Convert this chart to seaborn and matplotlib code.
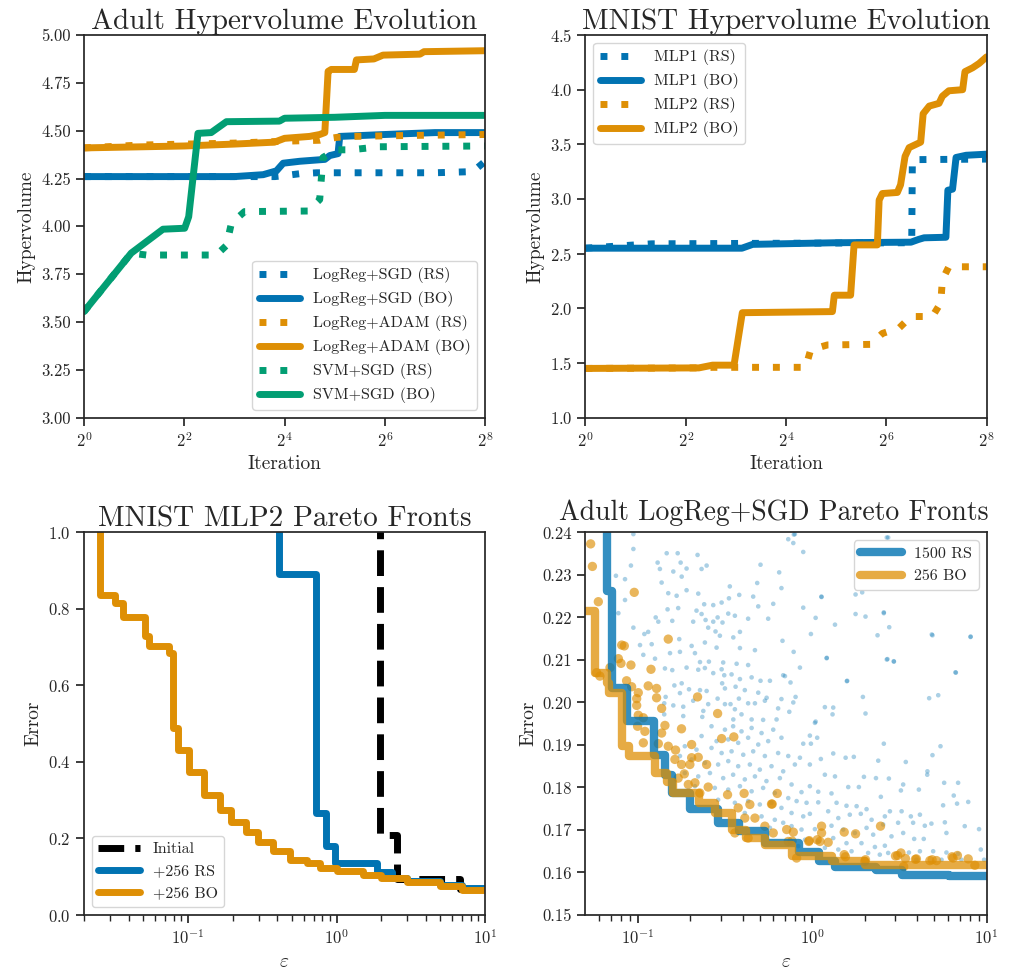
import numpy as np
import pandas as pd
import seaborn as sns
import matplotlib
matplotlib.use("Agg")
import matplotlib.pyplot as plt
from matplotlib.ticker import LogFormatterSciNotation, NullLocator, FixedLocator

# ---------------- Adult hypervolume evolution ----------------
adult_sgd_rs_x = [1, 14, 16, 19.7, 25, 128, 216, 256]
adult_sgd_rs_y = [4.26, 4.26, 4.265, 4.275, 4.28, 4.28, 4.286, 4.34]
adult_sgd_bo_x = [1, 8, 11.9, 14.3, 15.7, 19.7, 27.9, 29.9, 33.5, 34.3, 64, 128, 256]
adult_sgd_bo_y = [4.26, 4.26, 4.27, 4.29, 4.33, 4.34, 4.35, 4.37, 4.38, 4.47, 4.48, 4.49, 4.49]
adult_adam_rs_x = [1, 2.2, 8, 16, 26, 27.5, 33, 40, 90, 256]
adult_adam_rs_y = [4.41, 4.425, 4.435, 4.445, 4.45, 4.455, 4.465, 4.47, 4.475, 4.48]
adult_adam_bo_x = [1, 4, 8, 13.9, 16, 22.6, 26, 27.9, 29.2, 30.5, 42, 43.2, 55, 62.4, 104, 110, 256]
adult_adam_bo_y = [4.41, 4.42, 4.43, 4.44, 4.46, 4.47, 4.48, 4.49, 4.81, 4.82, 4.82, 4.87, 4.875,
                   4.895, 4.90, 4.913, 4.918]
adult_svm_rs_x = [1, 1.92, 2.37, 6.23, 7.16, 7.67, 9.2, 22.1, 26, 26.6, 27.2, 32.7, 40, 59.6, 256]
adult_svm_rs_y = [3.554, 3.86, 3.85, 3.85, 3.90, 4.016, 4.077, 4.08, 4.14, 4.25, 4.36, 4.40, 4.40,
                  4.416, 4.42]
adult_svm_bo_x = [1, 1.92, 2.98, 4.02, 4.25, 4.83, 5.8, 7.16, 14.9, 16, 32, 64, 256]
adult_svm_bo_y = [3.554, 3.86, 3.985, 3.99, 4.05, 4.486, 4.49, 4.547, 4.55, 4.565, 4.57, 4.58, 4.58]

# ---------------- MNIST hypervolume evolution ----------------
mnist_mlp1_rs_x = [1, 2.5, 91, 91.8, 256]
mnist_mlp1_rs_y = [2.55, 2.59, 2.60, 3.36, 3.365]
mnist_mlp1_bo_x = [1, 8.7, 10.1, 32, 90, 100, 108, 146, 150, 160, 168, 193, 256]
mnist_mlp1_bo_y = [2.55, 2.55, 2.585, 2.60, 2.605, 2.63, 2.645, 2.65, 3.08, 3.09, 3.38, 3.40, 3.41]
mnist_mlp2_rs_x = [1, 4.8, 5.8, 21, 22.5, 28.4, 51.6, 60.6, 76.5, 90, 121, 136, 139, 152, 256]
mnist_mlp2_rs_y = [1.45, 1.455, 1.46, 1.46, 1.62, 1.665, 1.67, 1.77, 1.82, 1.925, 1.925, 2.05, 2.26,
                   2.38, 2.38]
mnist_mlp2_bo_x = [1, 4.8, 5.8, 7.8, 8.75, 30.4, 31.2, 39.1, 41, 56.6, 58, 60.6, 74.6, 78, 83, 87.8,
                   103, 106.6, 116, 132.7, 139, 152, 184, 190, 211, 231, 256]
mnist_mlp2_bo_y = [1.45, 1.455, 1.48, 1.48, 1.96, 1.97, 2.12, 2.12, 2.58, 2.58, 2.99, 3.05, 3.06,
                   3.13, 3.39, 3.47, 3.52, 3.78, 3.85, 3.875, 3.94, 3.99, 4.0, 4.165, 4.2, 4.24, 4.30]

# ---------------- MNIST MLP2 Pareto fronts ----------------
mlp2_init_eps = [1.96, 1.96, 2.54, 6.8, 10.5]
mlp2_init_err = [1.05, 0.21, 0.095, 0.068, 0.068]
mlp2_rs_eps = [0.41, 0.41, 0.725, 0.85, 0.975, 1.86, 2.35, 3.0, 5.0, 7.0, 10.5]
mlp2_rs_err = [1.05, 0.89, 0.266, 0.18, 0.135, 0.113, 0.097, 0.09, 0.078, 0.07, 0.062]
mlp2_bo_eps = [0.0254, 0.0254, 0.032, 0.0365, 0.051, 0.055, 0.075, 0.079, 0.0857, 0.102, 0.129,
               0.163, 0.196, 0.247, 0.297, 0.374, 0.484, 0.628, 0.77, 1.0, 1.5, 2.0, 3.0, 5.0,
               7.0, 10.5]
mlp2_bo_err = [1.05, 0.837, 0.815, 0.78, 0.728, 0.704, 0.684, 0.488, 0.43, 0.375, 0.314, 0.275,
               0.244, 0.218, 0.192, 0.166, 0.144, 0.135, 0.122, 0.115, 0.105, 0.097, 0.087,
               0.075, 0.066, 0.058]

# ---------------- Adult LogReg+SGD Pareto fronts ----------------
lr_rs_front_eps = [0.0667, 0.0667, 0.0713, 0.0869, 0.1237, 0.144, 0.157, 0.2, 0.29, 0.38, 0.54,
                   0.84, 1.09, 1.36, 2.31, 3.28, 6.08, 10.5]
lr_rs_front_err = [0.25, 0.2263, 0.2035, 0.1956, 0.1877, 0.183, 0.1787, 0.175, 0.1716, 0.1697,
                   0.1669, 0.1649, 0.1626, 0.1614, 0.1605, 0.1594, 0.1592, 0.1592]
lr_bo_front_eps = [0.045, 0.0572, 0.0667, 0.068, 0.0813, 0.0888, 0.126, 0.147, 0.16, 0.224, 0.279,
                   0.348, 0.415, 0.54, 0.77, 1.30, 2.02, 10.5]
lr_bo_front_err = [0.2215, 0.207, 0.2046, 0.2023, 0.1897, 0.1875, 0.1834, 0.1814, 0.1787, 0.1763,
                   0.174, 0.170, 0.168, 0.1665, 0.1638, 0.1626, 0.1618, 0.1618]

# (log10 epsilon, error) of the individual evaluations
lr_rs_points = [
    (-1.025, 0.2396), (-1.025, 0.2361), (-0.834, 0.2351), (-0.771, 0.2351), (-0.886, 0.2329),
    (-0.754, 0.2329), (-0.657, 0.2347), (-0.634, 0.2314), (-0.605, 0.2322), (-0.720, 0.2315),
    (-0.796, 0.2308), (-0.873, 0.2314), (-1.125, 0.2298), (-1.073, 0.2290), (-1.039, 0.2322),
    (-0.863, 0.2282), (-0.748, 0.2296), (-0.472, 0.2273), (-0.315, 0.2281), (-0.296, 0.2324),
    (-0.189, 0.2306), (-0.176, 0.2269), (-0.825, 0.2257), (-0.720, 0.2264), (-0.653, 0.2256),
    (-0.777, 0.2251), (-0.477, 0.2245), (-0.418, 0.2253), (-0.338, 0.2249), (-0.309, 0.2226),
    (-0.223, 0.2232), (-1.073, 0.2241), (-0.829, 0.2219), (-0.768, 0.2222), (-0.619, 0.2231),
    (-0.567, 0.2229), (-0.519, 0.2235), (-0.663, 0.2216), (-0.634, 0.2208), (-0.481, 0.2209),
    (-0.443, 0.2204), (-0.542, 0.2200), (-0.514, 0.2188), (-0.611, 0.2194), (-0.567, 0.2190),
    (-0.682, 0.2190), (-0.802, 0.2192), (-0.882, 0.2190), (-0.897, 0.2200), (-1.111, 0.2210),
    (-1.025, 0.2176), (-0.962, 0.2161), (-0.940, 0.2166), (-0.596, 0.2176), (-0.554, 0.2167),
    (-0.414, 0.2166), (-0.252, 0.2197), (-0.367, 0.2197), (-0.529, 0.2157), (-0.452, 0.2153),
    (-0.762, 0.2149), (-0.920, 0.2137), (-0.987, 0.2135), (-0.691, 0.2133), (-0.615, 0.2141),
    (-0.548, 0.2129), (-0.414, 0.2128), (-0.328, 0.2123), (-0.170, 0.2145), (-0.815, 0.2116),
    (-0.758, 0.2119), (-0.901, 0.2103), (-0.968, 0.2112), (-0.672, 0.2116), (-0.643, 0.2095),
    (-0.592, 0.2096), (-0.510, 0.2094), (-0.433, 0.2091), (-0.367, 0.2088), (-0.844, 0.2080),
    (-0.802, 0.2076), (-0.720, 0.2082), (-0.653, 0.2077), (-0.615, 0.2081), (-0.567, 0.2069),
    (-0.519, 0.2078), (-0.504, 0.2064), (-0.462, 0.2066), (-0.414, 0.2055), (-0.347, 0.2059),
    (-0.296, 0.2051), (-0.242, 0.2051), (-0.166, 0.2064), (-0.790, 0.2040), (-0.748, 0.2045),
    (-0.706, 0.2031), (-0.643, 0.2029), (-0.605, 0.2027), (-0.516, 0.2045), (-0.500, 0.2033),
    (-0.439, 0.2037), (-0.386, 0.2029), (-0.309, 0.2023), (-0.261, 0.2011), (-0.176, 0.2008),
    (-0.840, 0.2013), (-0.758, 0.2022), (-0.848, 0.1998), (-0.796, 0.1993), (-0.739, 0.1990),
    (-0.682, 0.2004), (-0.596, 0.1996), (-0.542, 0.2009), (-0.500, 0.1996), (-0.468, 0.1996),
    (-0.420, 0.2009), (-0.367, 0.1998), (-0.328, 0.1998), (-0.271, 0.2004), (-0.195, 0.1986),
    (-0.405, 0.1972), (-0.443, 0.1984), (-0.624, 0.1980), (-0.630, 0.1966), (-0.848, 0.1972),
    (-0.739, 0.1968), (-0.452, 0.1960), (-0.347, 0.1960), (-0.281, 0.1959), (-0.204, 0.1960),
    (-0.137, 0.2384), (-0.099, 0.2396), (-0.108, 0.2375), (-0.051, 0.2354), (0.436, 0.2388),
    (0.264, 0.2347), (0.054, 0.2248), (0.249, 0.2254), (0.287, 0.2259), (-0.051, 0.2223),
    (0.020, 0.2199), (0.131, 0.2183), (0.249, 0.2208), (0.306, 0.2202), (0.411, 0.2210),
    (0.442, 0.2177), (0.375, 0.2158), (-0.007, 0.2161), (0.690, 0.2158), (0.908, 0.2154),
    (-0.106, 0.2119), (0.083, 0.2104), (-0.070, 0.2082), (0.432, 0.2102), (0.469, 0.2096),
    (0.201, 0.2051), (0.824, 0.2070), (-0.156, 0.2062), (-0.124, 0.2047), (-0.095, 0.2013),
    (0.291, 0.2013), (0.671, 0.2010), (0.723, 0.2017), (-0.108, 0.2000), (0.073, 0.1989),
    (0.121, 0.1988), (0.117, 0.1972), (0.306, 0.1974), (-0.131, 0.1978), (0.020, 0.1955),
    (0.909, 0.2155), (0.822, 0.2071), (0.686, 0.2160), (0.428, 0.2101), (0.468, 0.2097),
    (0.199, 0.2050), (0.084, 0.2105), (0.053, 0.2249), (0.411, 0.2212), (0.428, 0.2388),
    (-0.105, 0.2395),
    (-0.577, 0.1944), (-0.500, 0.1936), (-0.453, 0.1944), (-0.405, 0.1932), (-0.347, 0.1940),
    (-0.290, 0.1928), (-0.223, 0.1936), (-0.176, 0.1917), (-0.634, 0.1921), (-0.548, 0.1909),
    (-0.481, 0.1913), (-0.424, 0.1905), (-0.367, 0.1917), (-0.309, 0.1901), (-0.252, 0.1909),
    (-0.730, 0.1897), (-0.663, 0.1889), (-0.577, 0.1893), (-0.519, 0.1881), (-0.462, 0.1885),
    (-0.395, 0.1877), (-0.338, 0.1885), (-0.271, 0.1874), (-0.195, 0.1881), (-0.758, 0.1874),
    (-0.691, 0.1866), (-0.615, 0.1858), (-0.539, 0.1854), (-0.481, 0.1862), (-0.424, 0.1850),
    (-0.357, 0.1854), (-0.300, 0.1842), (-0.233, 0.1850), (-0.166, 0.1838), (-0.730, 0.1834),
    (-0.653, 0.1826), (-0.586, 0.1834), (-0.510, 0.1822), (-0.453, 0.1830), (-0.386, 0.1819),
    (-0.328, 0.1826), (-0.262, 0.1815), (-0.185, 0.1822), (-0.672, 0.1803), (-0.558, 0.1799),
    (-0.481, 0.1795), (-0.414, 0.1803), (-0.347, 0.1791), (-0.281, 0.1799), (-0.214, 0.1787),
    (-0.539, 0.1771), (-0.443, 0.1764), (-0.367, 0.1768), (-0.300, 0.1760), (-0.233, 0.1764),
    (-0.176, 0.1752), (-0.386, 0.1740), (-0.290, 0.1732), (-0.214, 0.1724), (-0.166, 0.1717),
    (-0.242, 0.1705),
    (0.016, 0.1952), (-0.013, 0.1922), (0.029, 0.1917), (-0.051, 0.1903), (-0.007, 0.1903),
    (-0.137, 0.1874), (-0.070, 0.1870), (0.050, 0.1867), (0.121, 0.1880), (0.192, 0.1870),
    (0.239, 0.1872), (0.411, 0.1903), (0.736, 0.1897), (0.690, 0.1876), (0.537, 0.1860),
    (0.379, 0.1863), (-0.099, 0.1854), (-0.013, 0.1854), (0.073, 0.1830), (0.131, 0.1826),
    (0.297, 0.1825), (0.366, 0.1822), (0.440, 0.1821), (0.661, 0.1838), (0.660, 0.1830),
    (0.757, 0.1811), (0.837, 0.1811), (0.522, 0.1807), (0.509, 0.1793), (0.612, 0.1795),
    (-0.118, 0.1807), (-0.013, 0.1803), (-0.061, 0.1789), (0.035, 0.1790), (0.111, 0.1786),
    (0.207, 0.1801), (0.268, 0.1801), (0.394, 0.1778), (-0.137, 0.1775), (-0.089, 0.1768),
    (-0.032, 0.1764), (0.035, 0.1765), (0.140, 0.1764), (0.197, 0.1757), (0.255, 0.1756),
    (0.312, 0.1749), (0.812, 0.1781), (0.831, 0.1762), (0.895, 0.1766), (0.751, 0.1758),
    (0.566, 0.1732), (0.618, 0.1736), (0.513, 0.1744), (0.417, 0.1732), (0.446, 0.1744),
    (-0.118, 0.1740), (-0.051, 0.1732), (-0.013, 0.1738), (0.092, 0.1744), (0.150, 0.1728),
    (0.216, 0.1736), (0.279, 0.1738), (0.341, 0.1724), (0.407, 0.1713), (0.493, 0.1717),
    (0.579, 0.1717), (0.646, 0.1710), (0.684, 0.1715), (0.761, 0.1718), (0.875, 0.1709),
    (0.957, 0.1702), (-0.118, 0.1709), (-0.061, 0.1701), (0.016, 0.1702), (0.111, 0.1710),
    (0.178, 0.1701), (0.245, 0.1693), (0.312, 0.1705), (0.350, 0.1689), (0.455, 0.1685),
    (0.522, 0.1693), (0.585, 0.1679), (0.640, 0.1679), (0.770, 0.1693), (-0.041, 0.1677),
    (0.035, 0.1673), (0.121, 0.1681), (0.197, 0.1669), (0.283, 0.1669), (0.360, 0.1660),
    (0.417, 0.1663), (-0.080, 0.1662), (0.073, 0.1658), (0.150, 0.1654), (0.226, 0.1650),
    (0.321, 0.1646), (0.436, 0.1646), (0.555, 0.1647), (0.618, 0.1650), (0.694, 0.1650),
    (0.770, 0.1647), (0.837, 0.1644), (0.967, 0.1654), (0.986, 0.1630), (0.856, 0.1630),
    (0.742, 0.1630), (0.598, 0.1630), (0.388, 0.1642),
]
lr_bo_points = [
    (-1.270, 0.2373), (-1.260, 0.2320), (-1.226, 0.2237), (-1.020, 0.2259), (-0.825, 0.2149),
    (-1.092, 0.2135), (-1.077, 0.2133), (-1.111, 0.2103), (-1.096, 0.2092), (-1.159, 0.2082),
    (-1.039, 0.2088), (-0.924, 0.2078), (-1.236, 0.2070), (-1.217, 0.2062), (-1.064, 0.2051),
    (-1.035, 0.2037), (-0.940, 0.2039), (-0.892, 0.2033), (-0.997, 0.2023), (-1.006, 0.2009),
    (-0.892, 0.2011), (-1.006, 0.1993), (-0.863, 0.1986), (-0.657, 0.2013), (-0.542, 0.1974),
    (-0.997, 0.1970), (-0.968, 0.1964),
    (-1.001, 0.1944), (-0.959, 0.1932), (-0.844, 0.1946), (-0.749, 0.1938), (-0.863, 0.1928),
    (-0.968, 0.1905), (-0.882, 0.1903), (-0.825, 0.1897), (-0.783, 0.1888), (-0.691, 0.1901),
    (-0.519, 0.1915), (-0.449, 0.1919), (-0.691, 0.1870), (-0.653, 0.1871), (-0.701, 0.1854),
    (-0.605, 0.1854), (-0.787, 0.1866), (-0.749, 0.1854), (-0.733, 0.1832), (-0.768, 0.1822),
    (-0.710, 0.1807), (-0.672, 0.1811), (-0.596, 0.1801), (-0.644, 0.1787), (-0.485, 0.1783),
    (-0.390, 0.1786), (-0.200, 0.1786), (-0.357, 0.1760), (-0.233, 0.1761), (-0.424, 0.1752),
    (-0.386, 0.1728), (-0.328, 0.1728), (-0.271, 0.1709), (-0.223, 0.1693), (-0.367, 0.1681),
    (-0.443, 0.1693), (-0.229, 0.1761),
    (-0.146, 0.1701), (-0.108, 0.1695), (0.054, 0.1709), (0.054, 0.1693), (0.184, 0.1695),
    (0.249, 0.1691), (0.392, 0.1709), (-0.017, 0.1675), (0.045, 0.1673), (0.092, 0.1671),
    (-0.137, 0.1673), (0.184, 0.1642), (0.490, 0.1640), (0.509, 0.1646), (0.535, 0.1633),
    (0.598, 0.1632), (0.675, 0.1628), (0.713, 0.1628), (0.808, 0.1634), (0.833, 0.1640),
    (0.895, 0.1632), (0.933, 0.1617), (-0.089, 0.1634), (0.302, 0.1626), (-0.115, 0.1674),
    (-0.019, 0.1673), (0.029, 0.1677), (0.592, 0.1631), (0.478, 0.1639), (0.688, 0.1630),
    (0.802, 0.1637), (0.306, 0.1630), (0.191, 0.1637), (0.525, 0.1614),
]

sns.set_theme(style="ticks", palette="colorblind")
plt.rcParams['font.family'] = ['cmr10', 'DejaVu Serif']
plt.rcParams['mathtext.fontset'] = 'cm'
plt.rcParams['axes.formatter.use_mathtext'] = True
plt.rcParams['axes.unicode_minus'] = False

pal = sns.color_palette("colorblind")
blue, orange, green = pal[0], pal[1], pal[2]
LW = 5
DOT = (0, (1, 2))

fig, axes = plt.subplots(2, 2, figsize=(10.16, 9.73), dpi=100)
fig.subplots_adjust(left=0.0827, right=0.971, bottom=0.0596, top=0.964, wspace=0.25, hspace=0.30)


def line(ax, x, y, color, label, ls='-', lw=LW, alpha=1.0, steps=False):
    kw = dict(drawstyle='steps-post') if steps else {}
    sns.lineplot(x=x, y=y, ax=ax, color=color, lw=lw, linestyle=ls, label=label,
                 sort=False, estimator=None, alpha=alpha, **kw)


def style_hv(ax, title):
    ax.set_xscale('log', base=2)
    ax.set_xlim(1, 256)
    ax.xaxis.set_major_locator(FixedLocator([1, 4, 16, 64, 256]))
    ax.xaxis.set_major_formatter(LogFormatterSciNotation(base=2))
    ax.xaxis.set_minor_locator(NullLocator())
    ax.set_title(title, fontsize=21, pad=4)
    ax.set_xlabel('Iteration', fontsize=14)
    ax.set_ylabel('Hypervolume', fontsize=14)


# top left
ax = axes[0, 0]
line(ax, adult_sgd_rs_x, adult_sgd_rs_y, blue, 'LogReg+SGD (RS)', DOT)
line(ax, adult_sgd_bo_x, adult_sgd_bo_y, blue, 'LogReg+SGD (BO)')
line(ax, adult_adam_rs_x, adult_adam_rs_y, orange, 'LogReg+ADAM (RS)', DOT)
line(ax, adult_adam_bo_x, adult_adam_bo_y, orange, 'LogReg+ADAM (BO)')
line(ax, adult_svm_rs_x, adult_svm_rs_y, green, 'SVM+SGD (RS)', DOT)
line(ax, adult_svm_bo_x, adult_svm_bo_y, green, 'SVM+SGD (BO)')
style_hv(ax, 'Adult Hypervolume Evolution')
ax.set_ylim(3.0, 5.0)
ax.set_yticks(np.arange(3.0, 5.01, 0.25))
ax.yaxis.set_major_formatter(matplotlib.ticker.FormatStrFormatter('%.2f'))
ax.legend(loc='lower right', fontsize=11.5, handlelength=2.6)

# top right
ax = axes[0, 1]
line(ax, mnist_mlp1_rs_x, mnist_mlp1_rs_y, blue, 'MLP1 (RS)', DOT)
line(ax, mnist_mlp1_bo_x, mnist_mlp1_bo_y, blue, 'MLP1 (BO)')
line(ax, mnist_mlp2_rs_x, mnist_mlp2_rs_y, orange, 'MLP2 (RS)', DOT)
line(ax, mnist_mlp2_bo_x, mnist_mlp2_bo_y, orange, 'MLP2 (BO)')
style_hv(ax, 'MNIST Hypervolume Evolution')
ax.set_ylim(1.0, 4.5)
ax.set_yticks(np.arange(1.0, 4.51, 0.5))
ax.legend(loc='upper left', fontsize=11.5, handlelength=2.6)

# bottom left
ax = axes[1, 0]
line(ax, mlp2_init_eps, mlp2_init_err, 'black', 'Initial', '--', steps=True)
line(ax, mlp2_rs_eps, mlp2_rs_err, blue, '+256 RS', steps=True)
line(ax, mlp2_bo_eps, mlp2_bo_err, orange, '+256 BO', steps=True)
ax.set_xscale('log')
ax.set_xlim(10 ** -1.7, 10)
ax.set_ylim(0.0, 1.0)
ax.set_title('MNIST MLP2 Pareto Fronts', fontsize=21, pad=4)
ax.set_xlabel(r'$\varepsilon$', fontsize=14)
ax.set_ylabel('Error', fontsize=14)
ax.legend(loc='lower left', fontsize=11.5, handlelength=2.6)

# bottom right
ax = axes[1, 1]
rs_pts = pd.DataFrame(lr_rs_points, columns=['log_eps', 'err'])
bo_pts = pd.DataFrame(lr_bo_points, columns=['log_eps', 'err'])
rs_pts['eps'] = 10 ** rs_pts['log_eps']
bo_pts['eps'] = 10 ** bo_pts['log_eps']
sns.scatterplot(data=rs_pts, x='eps', y='err', ax=ax, color=blue, s=11, alpha=0.33,
                edgecolor='none', legend=False)
sns.scatterplot(data=bo_pts, x='eps', y='err', ax=ax, color=orange, s=45, alpha=0.65,
                edgecolor='none', legend=False)
line(ax, lr_rs_front_eps, lr_rs_front_err, blue, '1500 RS', lw=6, alpha=0.8, steps=True)
line(ax, lr_bo_front_eps, lr_bo_front_err, orange, '256 BO', lw=6, alpha=0.75, steps=True)
ax.set_xscale('log')
ax.set_xlim(10 ** -1.3, 10)
ax.set_ylim(0.15, 0.24)
ax.set_yticks(np.arange(0.15, 0.2401, 0.01))
ax.yaxis.set_major_formatter(matplotlib.ticker.FormatStrFormatter('%.2f'))
ax.set_title('Adult LogReg+SGD Pareto Fronts', fontsize=20, pad=9, x=0.47)
ax.set_xlabel(r'$\varepsilon$', fontsize=14)
ax.set_ylabel('Error', fontsize=14)
ax.legend(loc='upper right', fontsize=11.5, handlelength=2.6)

for a in axes.flat:
    a.tick_params(labelsize=12)
    for s in a.spines.values():
        s.set_visible(True)

plt.savefig('out.png', dpi=100)
